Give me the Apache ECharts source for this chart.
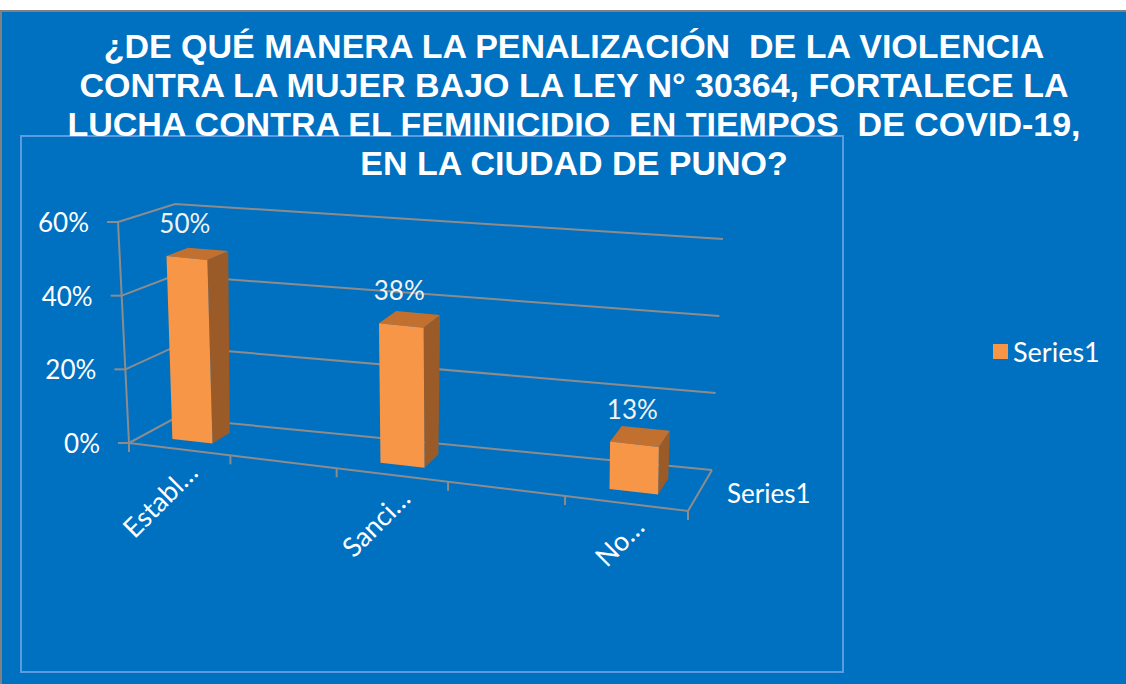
<!DOCTYPE html>
<html>
<head>
<meta charset="utf-8">
<title>Penalización de la violencia contra la mujer</title>
<script src="https://cdn.jsdelivr.net/npm/echarts@6/dist/echarts.min.js"></script>
<style>
  html, body { margin: 0; padding: 0; background: #fff; }
  #chart { width: 1126px; height: 684px; }
</style>
</head>
<body>
<div id="chart"></div>
<script>
// datos del gráfico (las categorías vacías vienen así en la hoja original)
var categories = ["Establ…", "", "Sanci…", "", "No…"];
var values = [0.5, null, 0.375, null, 0.125];
var seriesName = "Series1";
var yTicks = [0, 0.2, 0.4, 0.6];
var titulo = "¿DE QUÉ MANERA LA PENALIZACIÓN  DE LA VIOLENCIA\nCONTRA LA MUJER BAJO LA LEY N° 30364, FORTALECE LA\nLUCHA CONTRA EL FEMINICIDIO  EN TIEMPOS  DE COVID-19,\nEN LA CIUDAD DE PUNO?";

// esquinas de la caja 3D en pantalla: u = categorías, v = valor (0..1), w = profundidad
var F0L = [129, 443], F0R = [688, 511], B0L = [175, 418], B0R = [712, 470];
var F1L = [118, 222], F1R = [690, 283], B1L = [175, 204], B1R = [723, 239];
var K = 1.128; // escorzo a lo largo del eje de categorías
var gris = { stroke: "#8C8C8C", lineWidth: 2, fill: null };
var fuente = "Lato, 'Open Sans', sans-serif";

function lerp(a, b, t) { return a + (b - a) * t; }

function proj(u, v, w) {
  u = u / (u + K * (1 - u));
  var p = [];
  for (var d = 0; d < 2; d++) {
    var f = lerp(lerp(F0L[d], F0R[d], u), lerp(F1L[d], F1R[d], u), v);
    var b = lerp(lerp(B0L[d], B0R[d], u), lerp(B1L[d], B1R[d], u), v);
    p.push(lerp(f, b, w));
  }
  return p;
}

// punto del grid plano -> (u, v)
function toUV(cs, pt) {
  return [(pt[0] - cs.x) / cs.width, (cs.y + cs.height - pt[1]) / cs.height];
}

function renderFrame(params, api) {
  var cs = params.coordSys;
  var tick = api.value(1);
  var v = toUV(cs, api.coord([0, tick]))[1];
  var a = proj(0, v, 0), b = proj(0, v, 1), c = proj(1, v, 1);
  var kids = [
    { type: "polyline", shape: { points: [a, b, c] }, style: gris },
    { type: "line", shape: { x1: a[0] - 11, y1: a[1], x2: a[0], y2: a[1] }, style: gris },
    {
      type: "text", x: a[0] - 29, y: a[1],
      style: { text: Math.round(tick * 100) + "%", align: "right", verticalAlign: "middle", fill: "#fff", font: "26px " + fuente }
    }
  ];
  if (params.dataIndex === 0) {
    // borde frontal del piso y eje vertical
    kids.push({ type: "polyline", shape: { points: [proj(0, 0, 0), proj(1, 0, 0), proj(1, 0, 1)] }, style: gris });
    kids.push({ type: "line", shape: { x1: F1L[0], y1: F1L[1], x2: F0L[0], y2: F0L[1] }, style: gris });
    var n = categories.length;
    for (var k = 0; k <= n; k++) {
      var t = proj(k / n, 0, 0);
      kids.push({ type: "line", shape: { x1: t[0], y1: t[1], x2: t[0], y2: t[1] + 9 }, style: gris });
    }
    for (var i = 0; i < n; i++) {
      if (!categories[i]) continue;
      var u = toUV(cs, api.coord([i, 0]))[0];
      var p = proj(u, 0, 0);
      kids.push({
        type: "text", x: p[0] + 13, y: p[1] + 18, rotation: Math.PI / 4,
        style: { text: categories[i], align: "right", verticalAlign: "middle", fill: "#fff", font: "27px " + fuente }
      });
    }
    var s = proj(1, 0, 0.5);
    kids.push({
      type: "text", x: s[0] + 27, y: s[1] + 2,
      style: { text: seriesName, align: "left", verticalAlign: "middle", fill: "#fff", font: "26px " + fuente }
    });
  }
  return { type: "group", children: kids };
}

function renderBar(params, api) {
  var val = api.value(1);
  if (val == null || isNaN(val)) return;
  var cs = params.coordSys;
  var top = toUV(cs, api.coord([api.value(0), val]));
  var base = toUV(cs, api.coord([api.value(0), 0]));
  var half = api.size([1, 0])[0] / cs.width * 0.2;
  var u0 = top[0] - half, u1 = top[0] + half;
  var v0 = base[1], v1 = top[1], w0 = 0.3, w1 = 0.7;
  var frente = [proj(u0, v0, w0), proj(u1, v0, w0), proj(u1, v1, w0), proj(u0, v1, w0)];
  var lado = [proj(u1, v0, w0), proj(u1, v0, w1), proj(u1, v1, w1), proj(u1, v1, w0)];
  var tapa = [proj(u0, v1, w0), proj(u1, v1, w0), proj(u1, v1, w1), proj(u0, v1, w1)];
  var m = proj(top[0], v1, w0);
  return {
    type: "group",
    children: [
      { type: "polygon", shape: { points: lado }, style: { fill: "#9B5B28" } },
      { type: "polygon", shape: { points: tapa }, style: { fill: "#C2702F" } },
      { type: "polygon", shape: { points: frente }, style: { fill: "#F79646" } },
      {
        type: "text", x: m[0] - 2, y: m[1] - 35,
        style: { text: Math.round(val * 100) + "%", align: "center", verticalAlign: "middle", fill: "#F2F2F2", font: "26px " + fuente }
      }
    ]
  };
}

var myChart = echarts.init(document.getElementById("chart"), null, { renderer: "svg" });
myChart.setOption({
  animation: false,
  graphic: [
    { type: "rect", z: -10, shape: { x: 0, y: 10, width: 1126, height: 674 }, style: { fill: "#0070C0" } },
    { type: "rect", z: -10, shape: { x: 0, y: 10, width: 1126, height: 2 }, style: { fill: "#808080" } },
    { type: "rect", z: -10, shape: { x: 0, y: 10, width: 2, height: 674 }, style: { fill: "#808080" } },
    { type: "rect", z: -9, shape: { x: 21, y: 136, width: 822, height: 536 }, style: { fill: null, stroke: "#5B9BE0", lineWidth: 2 } },
    {
      type: "text", z: 10, x: 574, y: 26,
      style: {
        text: titulo,
        align: "center",
        verticalAlign: "top",
        fill: "#fff",
        font: "bold 34px 'Liberation Sans', Arial, sans-serif",
        lineHeight: 39
      }
    }
  ],
  legend: {
    data: [seriesName],
    left: 988,
    top: 333,
    icon: "rect",
    itemWidth: 15,
    itemHeight: 15,
    textStyle: { color: "#fff", fontSize: 27, fontFamily: fuente }
  },
  grid: { left: 129, top: 222, width: 559, height: 221 },
  xAxis: { type: "category", data: categories, show: false },
  yAxis: { type: "value", min: 0, max: 0.6, interval: 0.2, show: false },
  series: [
    {
      name: "marco",
      type: "custom",
      silent: true,
      z: 1,
      renderItem: renderFrame,
      encode: { x: 0, y: 1 },
      data: yTicks.map(function (t) { return [0, t]; })
    },
    {
      name: seriesName,
      type: "custom",
      z: 2,
      itemStyle: { color: "#F79646" },
      renderItem: renderBar,
      encode: { x: 0, y: 1 },
      data: values.map(function (v, i) { return [i, v]; })
    }
  ]
});
</script>
</body>
</html>
